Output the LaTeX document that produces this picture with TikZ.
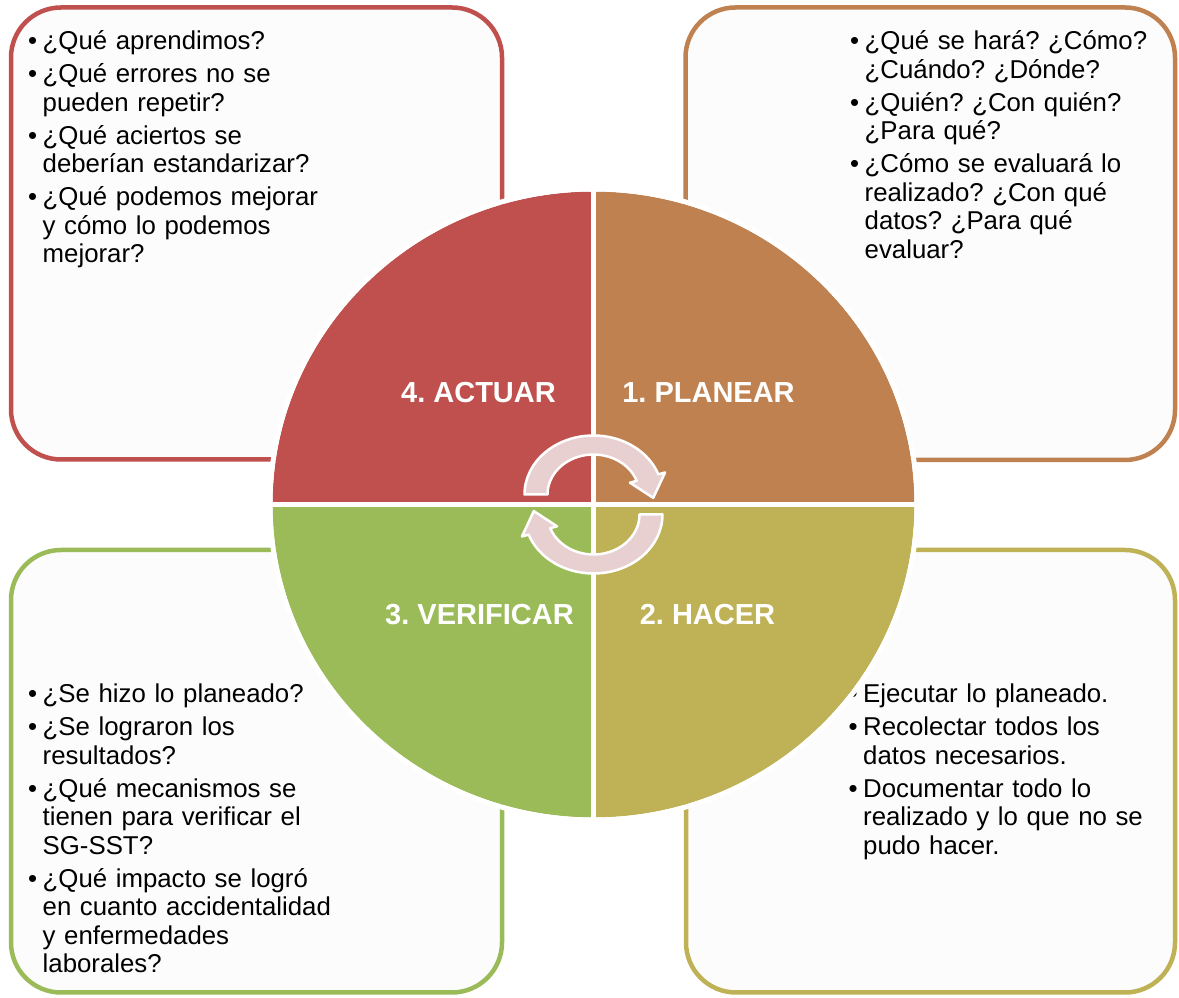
\documentclass[tikz,border=0pt]{standalone}
\usepackage{fontspec}
\setmainfont{Liberation Sans}
\frenchspacing
\definecolor{cRed}{RGB}{192,80,77}
\definecolor{cBrown}{RGB}{191,129,80}
\definecolor{cOlive}{RGB}{191,177,85}
\definecolor{cGreen}{RGB}{155,187,89}
\definecolor{cPink}{RGB}{232,208,209}
\definecolor{boxfill}{RGB}{252,252,252}
\newcommand{\pbul}{\makebox[14.5pt][l]{•}}
\newcommand{\pind}{\hspace*{14.5pt}}
\begin{document}
\begin{tikzpicture}[x=1pt,y=1pt,
  infobox/.style={line width=4.5pt, fill=boxfill, rounded corners=50pt},
  qtext/.style={font=\fontsize{25.8}{28.5}\selectfont\frenchspacing, text width=420pt, align=left, inner sep=0pt, anchor=base west, text=black},
  phase/.style={font=\fontsize{29}{34}\selectfont\bfseries, text=white, inner sep=0pt, anchor=base},
  arrowbody/.style={fill=cPink, draw=white, line width=2.5pt, line join=round},
  cycarrow/.pic={\draw[arrowbody] (-69,10) arc[start angle=180,end angle=20,x radius=69,y radius=59] -- (71.6,32) -- (59.7,6.6) -- (36.5,21.8) -- (43.23,23.68) arc[start angle=20,end angle=180,x radius=46,y radius=40] -- cycle;}
]
\useasboundingbox (0,0) rectangle (1179,998);
\fill[white] (0,0) rectangle (1179,998);

% outer boxes
\draw[infobox, draw=cRed] (11,538.5) rectangle (502,990.5);
\draw[infobox, draw=cBrown] (685.5,538) rectangle (1175,990.5);
\draw[infobox, draw=cGreen] (11,5.5) rectangle (502,448);
\draw[infobox, draw=cOlive] (686,5.5) rectangle (1175,448);

% box texts
\node[qtext] (tltext) at (28,948) {\pbul ¿Qué aprendimos?\\[4.5pt]
\pbul ¿Qué errores no se\\
\pind pueden repetir?\\[4.5pt]
\pbul ¿Qué aciertos se\\
\pind deberían estandarizar?\\[4.5pt]
\pbul ¿Qué podemos mejorar\\
\pind y cómo lo podemos\\
\pind mejorar?};

\node[qtext] (trtext) at (850,948) {\pbul ¿Qué se hará? ¿Cómo?\\
\pind ¿Cuándo? ¿Dónde?\\[4.5pt]
\pbul ¿Quién? ¿Con quién?\\
\pind ¿Para qué?\\[4.5pt]
\pbul ¿Cómo se evaluará lo\\
\pind realizado? ¿Con qué\\
\pind datos? ¿Para qué\\
\pind evaluar?};

\node[qtext] (bltext) at (28,295) {\pbul ¿Se hizo lo planeado?\\[4.5pt]
\pbul ¿Se lograron los\\
\pind resultados?\\[4.5pt]
\pbul ¿Qué mecanismos se\\
\pind tienen para verificar el\\
\pind SG-SST?\\[4.5pt]
\pbul ¿Qué impacto se logró\\
\pind en cuanto accidentalidad\\
\pind y enfermedades\\
\pind laborales?};

\node[qtext] (brtext) at (848.5,295) {\pbul Ejecutar lo planeado.\\[4.5pt]
\pbul Recolectar todos los\\
\pind datos necesarios.\\[4.5pt]
\pbul Documentar todo lo\\
\pind realizado y lo que no se\\
\pind pudo hacer.};

% central circle
\coordinate (ctr) at (593.5,493.5);
\fill[cRed] (ctr) -- ++(-321,0) arc[start angle=180,end angle=90,x radius=321,y radius=313] -- cycle;
\fill[cBrown] (ctr) -- ++(0,313) arc[start angle=90,end angle=0,x radius=321,y radius=313] -- cycle;
\fill[cOlive] (ctr) -- ++(321,0) arc[start angle=0,end angle=-90,x radius=321,y radius=313] -- cycle;
\fill[cGreen] (ctr) -- ++(0,-313) arc[start angle=-90,end angle=-180,x radius=321,y radius=313] -- cycle;
\draw[white,line width=5pt] (ctr) ++(-323,0) -- ++(646,0);
\draw[white,line width=5pt] (ctr) ++(0,-315) -- ++(0,630);
\draw[white,line width=5pt] (ctr) ellipse [x radius=323.5,y radius=315.5];

% cycle arrows
\pic at (ctr) {cycarrow};
\pic[rotate=180] at (ctr) {cycarrow};

% phase labels
\node[phase] (act) at (478.5,595) {4. ACTUAR};
\node[phase] (pla) at (708.5,595) {1. PLANEAR};
\node[phase] (ver) at (479.5,373.5) {3. VERIFICAR};
\node[phase] (hac) at (707.5,373.5) {2. HACER};
\end{tikzpicture}
\end{document}
